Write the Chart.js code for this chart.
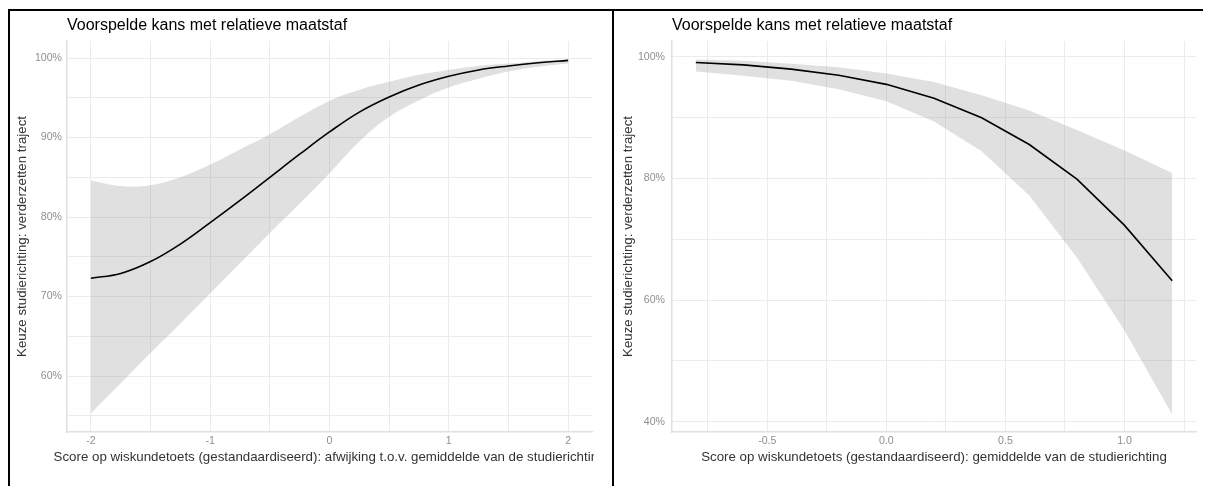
<!DOCTYPE html>
<html>
<head>
<meta charset="utf-8">
<script src="https://cdn.jsdelivr.net/npm/chart.js@4.4.1/dist/chart.umd.min.js"></script>
<style>
html,body{margin:0;padding:0;background:#fff;width:1213px;height:486px;overflow:hidden;}
#frame{position:absolute;left:0;top:0;width:1213px;height:486px;}
.bl{position:absolute;background:#000;}
canvas{position:absolute;}
</style>
</head>
<body>
<div id="frame">
  <canvas id="c1" width="584" height="475" style="left:10px;top:11px;width:584px;height:475px"></canvas>
  <canvas id="c2" width="599" height="475" style="left:614px;top:11px;width:599px;height:475px"></canvas>
  <div class="bl" style="left:8px;top:9px;width:1195px;height:2px"></div>
  <div class="bl" style="left:8px;top:9px;width:2px;height:477px"></div>
  <div class="bl" style="left:612px;top:9px;width:2px;height:477px"></div>
</div>
<script>
// ---------- data: left panel ----------
const leftX     = [-2, -1.75, -1.5, -1.25, -1, -0.75, -0.5, -0.25, 0, 0.25, 0.5, 0.75, 1, 1.25, 1.5, 1.75, 2];
const leftFit   = [72.3, 72.9, 74.4, 76.6, 79.3, 82.1, 85.0, 87.9, 90.7, 93.2, 95.1, 96.6, 97.7, 98.5, 99.0, 99.4, 99.7];
const leftUpper = [84.6, 83.9, 84.0, 85.0, 86.6, 88.5, 90.4, 92.6, 94.6, 96.0, 97.0, 97.9, 98.5, 99.0, 99.3, 99.6, 99.8];
const leftLower = [55.3, 59.1, 62.9, 66.6, 70.4, 74.2, 78.0, 81.7, 85.5, 89.5, 92.6, 94.7, 96.3, 97.4, 98.3, 98.9, 99.3];

const leftXTicks  = [-2, -1.5, -1, -0.5, 0, 0.5, 1, 1.5, 2];
const leftXLabels = ['-2', '', '-1', '', '0', '', '1', '', '2'];
const leftYTicks  = [55, 60, 65, 70, 75, 80, 85, 90, 95, 100];
const leftYLabels = ['', '60%', '', '70%', '', '80%', '', '90%', '', '100%'];

// ---------- data: right panel ----------
const rightX     = [-0.8, -0.6, -0.4, -0.2, 0, 0.2, 0.4, 0.6, 0.8, 1.0, 1.2];
const rightFit   = [99.1, 98.7, 98.0, 97.0, 95.5, 93.2, 90.0, 85.6, 79.9, 72.3, 63.2];
const rightUpper = [99.6, 99.4, 98.9, 98.3, 97.3, 95.9, 93.7, 91.2, 88.0, 84.6, 80.9];
const rightLower = [97.6, 96.9, 96.1, 94.7, 92.7, 89.4, 84.5, 77.2, 67.0, 55.0, 41.2];

const rightXTicks  = [-0.75, -0.5, -0.25, 0, 0.25, 0.5, 0.75, 1, 1.25];
const rightXLabels = ['', '-0.5', '', '0.0', '', '0.5', '', '1.0', ''];
const rightYTicks  = [40, 50, 60, 70, 80, 90, 100];
const rightYLabels = ['40%', '', '60%', '', '80%', '', '100%'];

// ---------- text ----------
const plotTitle = 'Voorspelde kans met relatieve maatstaf';
const yTitle = 'Keuze studierichting: verderzetten traject';
const leftXTitle = 'Score op wiskundetoets (gestandaardiseerd): afwijking t.o.v. gemiddelde van de studierichting';
const rightXTitle = 'Score op wiskundetoets (gestandaardiseerd): gemiddelde van de studierichting';

// ---------- styling ----------
const FONT = "'Liberation Sans', Arial, Helvetica, sans-serif";
const GRID = '#ebebeb';
const RIBBON = 'rgba(153,153,153,0.3)';

const clippedXTitle = {
  id: 'clippedXTitle',
  afterDraw(chart, args, opts) {
    if (!opts || !opts.text) return;
    const {ctx, chartArea, scales} = chart;
    ctx.save();
    ctx.font = opts.size + 'px ' + FONT;
    ctx.fillStyle = opts.color;
    ctx.textAlign = 'center';
    ctx.textBaseline = 'middle';
    ctx.fillText(opts.text, (chartArea.left + chartArea.right) / 2, scales.x.bottom - opts.size * 0.6 - opts.pad);
    ctx.restore();
  }
};

function pts(xs, ys) { return xs.map((x, i) => ({x: x, y: ys[i]})); }

function makePanel(id, p) {
  const ten = p.smooth ? 0.4 : 0;
  new Chart(document.getElementById(id), {
    type: 'line',
    data: {
      datasets: [
        { data: pts(p.x, p.fit), borderColor: '#000', borderWidth: 1.6, pointRadius: 0, fill: false,
          tension: ten },
        { data: pts(p.x, p.upper), borderWidth: 0, borderColor: 'rgba(0,0,0,0)', pointRadius: 0,
          backgroundColor: RIBBON, fill: '+1', tension: ten },
        { data: pts(p.x, p.lower), borderWidth: 0, borderColor: 'rgba(0,0,0,0)', pointRadius: 0,
          fill: false, tension: ten }
      ]
    },
    options: {
      responsive: false,
      animation: false,
      devicePixelRatio: 1,
      layout: { padding: { left: 0, right: p.padRight, top: 0, bottom: 14 } },
      plugins: {
        legend: { display: false },
        tooltip: { enabled: false },
        title: {
          display: true, text: plotTitle, align: 'start', fullSize: false,
          color: '#000', font: { family: FONT, size: 16, weight: 'normal' },
          padding: { top: 5.4, bottom: 5.4 }
        },
        clippedXTitle: p.clipTitle ? { text: p.xTitle, size: 13.3, color: '#333', pad: 7 } : {}
      },
      scales: {
        x: {
          type: 'linear', min: p.xMin, max: p.xMax,
          afterBuildTicks: s => { s.ticks = p.xTicks.map(v => ({ value: v })); },
          afterFit: s => { s.height = 40; },
          grid: { color: GRID, lineWidth: 1, drawTicks: false },
          border: { display: true, color: '#e0e0e0', width: 1.5 },
          ticks: { autoSkip: false, maxRotation: 0, padding: 3, color: '#8f8f8f',
                   font: { family: FONT, size: 10.6 },
                   callback: (v, i) => p.xLabels[i] },
          title: { display: !p.clipTitle, text: p.xTitle, color: '#333',
                   font: { family: FONT, size: 13.3 }, padding: { top: 0, bottom: 7 } }
        },
        y: {
          type: 'linear', min: p.yMin, max: p.yMax,
          afterBuildTicks: s => { s.ticks = p.yTicks.map(v => ({ value: v })); },
          afterFit: s => { s.width = p.yWidth; },
          grid: { color: GRID, lineWidth: 1, drawTicks: false },
          border: { display: true, color: '#e0e0e0', width: 1.5 },
          ticks: { autoSkip: false, padding: p.yPad, color: '#8f8f8f',
                   font: { family: FONT, size: 10.6 },
                   callback: (v, i) => p.yLabels[i] },
          title: { display: true, text: yTitle, color: '#333',
                   font: { family: FONT, size: 13.3 }, padding: { top: p.yTitlePad, bottom: 0 } }
        }
      }
    },
    plugins: [clippedXTitle]
  });
}

makePanel('c1', {
  x: leftX, fit: leftFit, upper: leftUpper, lower: leftLower, smooth: true,
  xMin: -2.2, xMax: 2.2, yMin: 52.96, yMax: 102.14,
  xTicks: leftXTicks, xLabels: leftXLabels, yTicks: leftYTicks, yLabels: leftYLabels,
  xTitle: leftXTitle, clipTitle: true, padRight: 2, yWidth: 57, yPad: 5, yTitlePad: 4.5
});
makePanel('c2', {
  x: rightX, fit: rightFit, upper: rightUpper, lower: rightLower, smooth: false,
  xMin: -0.9, xMax: 1.3, yMin: 38.31, yMax: 102.63,
  xTicks: rightXTicks, xLabels: rightXLabels, yTicks: rightYTicks, yLabels: rightYLabels,
  xTitle: rightXTitle, clipTitle: false, padRight: 17, yWidth: 58, yPad: 7, yTitlePad: 6.5
});
</script>
</body>
</html>
